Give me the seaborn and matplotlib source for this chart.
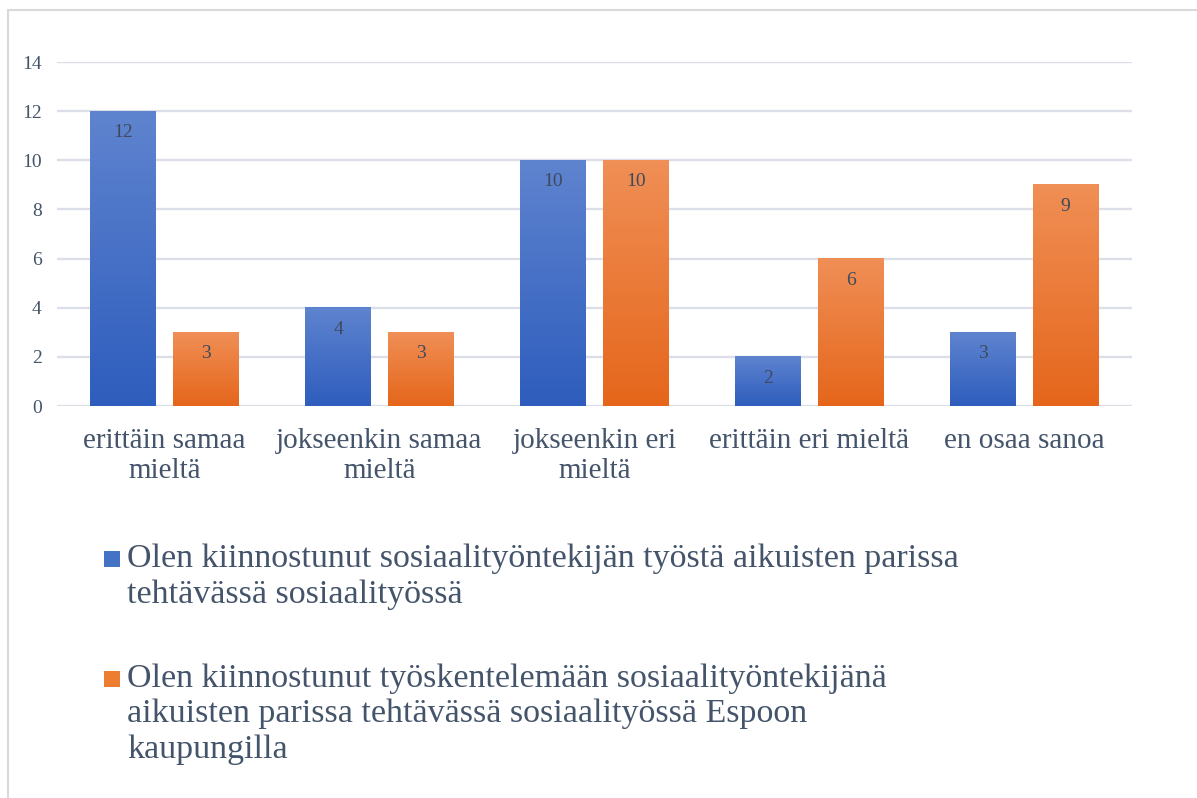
import numpy as np
import pandas as pd
import matplotlib
matplotlib.use("Agg")
import matplotlib.pyplot as plt
import seaborn as sns
from matplotlib.colors import LinearSegmentedColormap
from matplotlib.patches import Rectangle
from matplotlib.lines import Line2D

categories = ["erittäin samaa\nmieltä", "jokseenkin samaa\nmieltä", "jokseenkin eri\nmieltä",
              "erittäin eri mieltä", "en osaa sanoa"]
series_names = [
    "Olen kiinnostunut sosiaalityöntekijän työstä aikuisten parissa\ntehtävässä sosiaalityössä",
    "Olen kiinnostunut työskentelemään sosiaalityöntekijänä\naikuisten parissa tehtävässä sosiaalityössä Espoon\nkaupungilla",
]
interest_work = [12, 4, 10, 2, 3]
interest_espoo = [3, 3, 10, 6, 9]
y_ticks = [0, 2, 4, 6, 8, 10, 12, 14]

text_col = "#44546A"
grid_col = "#dcdfe7"
# (bottom, top) colours of the gradient fills
grads = [("#2e5dbd", "#5f84cf"), ("#e5661b", "#f08f56")]
swatch = ["#4472C4", "#ED7D31"]

df = pd.DataFrame({
    "kategoria": categories * 2,
    "arvo": interest_work + interest_espoo,
    "sarja": [series_names[0]] * 5 + [series_names[1]] * 5,
})

sns.set_style("white")
plt.rcParams["font.family"] = ["Liberation Serif", "DejaVu Serif"]

fig = plt.figure(figsize=(11.97, 7.98), dpi=100)
ax = fig.add_axes([0.0476, 0.4912, 0.8981, 0.4311])

sns.barplot(data=df, x="kategoria", y="arvo", hue="sarja", hue_order=series_names,
            palette=[g[0] for g in grads], width=0.767, gap=0.2, legend=False, ax=ax)

ax.yaxis.grid(True, color=grid_col, linewidth=1.7)
ax.set_axisbelow(True)
for s in ax.spines.values():
    s.set_visible(False)
ax.set_xlabel("")
ax.set_ylabel("")
ax.set_yticks(y_ticks)
ax.tick_params(axis="y", length=0, pad=11, labelsize=14, labelcolor=text_col)
ax.tick_params(axis="x", length=0, pad=16, labelsize=21, labelcolor=text_col)

grad_img = np.linspace(0, 1, 256).reshape(-1, 1)
for cont, (bot, top) in zip(ax.containers, grads):
    cmap = LinearSegmentedColormap.from_list("g", [bot, top])
    for bar in cont:
        x0, w, h = bar.get_x(), bar.get_width(), bar.get_height()
        bar.set_facecolor("none")
        bar.set_edgecolor("none")
        ax.imshow(grad_img, extent=[x0, x0 + w, 0, h], origin="lower", cmap=cmap,
                  aspect="auto", zorder=2, interpolation="bilinear")
        ax.annotate(f"{h:.0f}", (x0 + w / 2, h), xytext=(0, -9.5), textcoords="offset points",
                    ha="center", va="top", fontsize=14, color="#3d4a5c", zorder=3)

ax.set_ylim(0, 14)
ax.set_xlim(-0.5, 4.5)

# legend below the plot, square aligned to the first text line
for name, col, ytop, ysq in zip(series_names, swatch, [0.3185, 0.1684], [0.2895, 0.1391]):
    fig.patches.append(Rectangle((0.0869, ysq), 0.0134, 0.0200, transform=fig.transFigure,
                                 facecolor=col, edgecolor="none", figure=fig))
    fig.text(0.1065, ytop, name, ha="left", va="top", fontsize=24.5, color=text_col)

# thin frame at top and left like the source image
fig.add_artist(Line2D([0.0067, 1.0], [0.9875, 0.9875], color="#d9d9d9", linewidth=1.5))
fig.add_artist(Line2D([0.0067, 0.0067], [0.0, 0.9875], color="#d9d9d9", linewidth=1.5))

fig.savefig("out.png", dpi=100)
